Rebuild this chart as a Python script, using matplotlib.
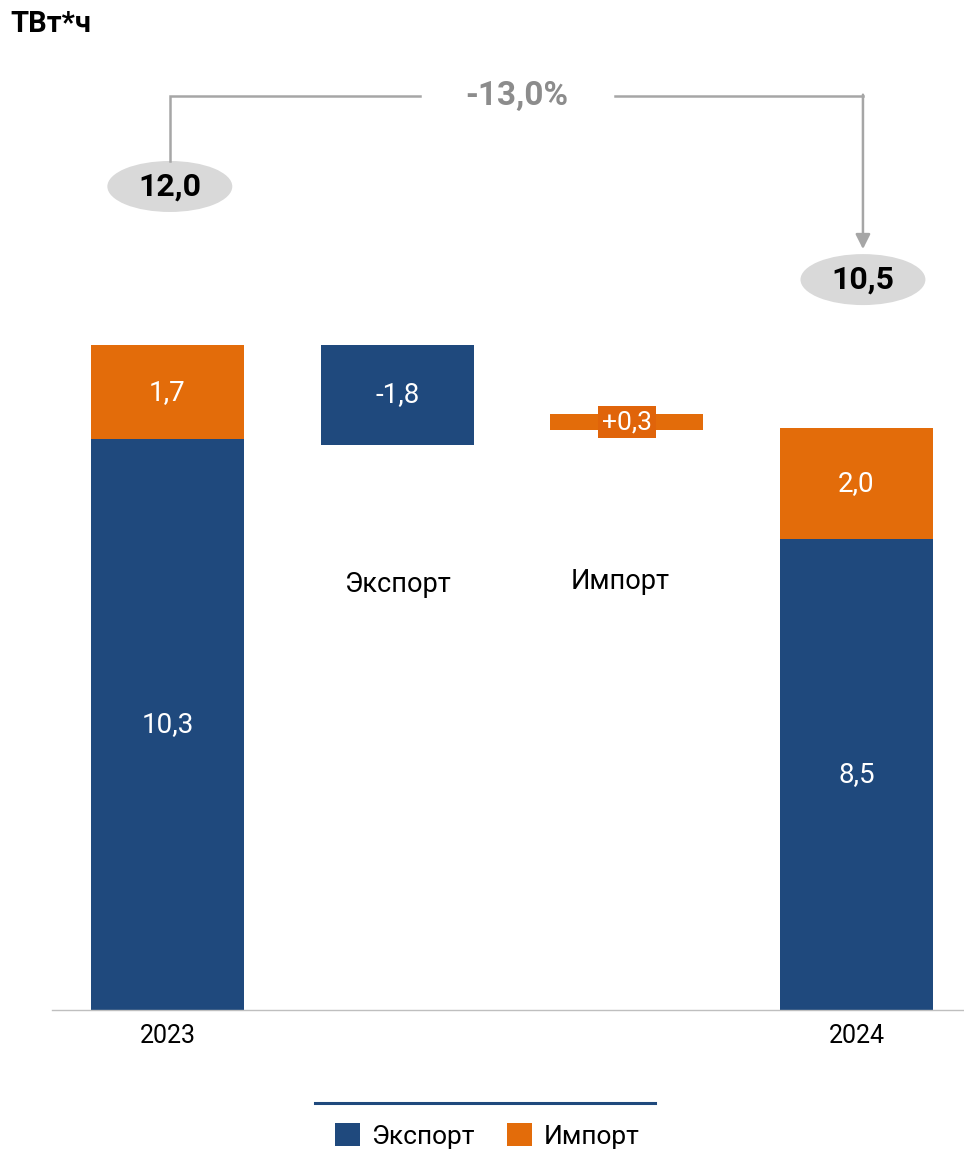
import matplotlib
matplotlib.use('Agg')
import matplotlib.pyplot as plt
from matplotlib.patches import Ellipse, Patch
from matplotlib.lines import Line2D

plt.rcParams['font.family'] = ['Roboto', 'DejaVu Sans']

# data
years = ['2023', '2024']
export_vals = [10.3, 8.5]
import_vals = [1.7, 2.0]
totals = [12.0, 10.5]
step_names = ['Экспорт', 'Импорт']
step_vals = [-1.8, 0.3]
pct_change = '-13,0%'

BLUE = '#1f497d'
ORANGE = '#e36c0a'
GRAY = '#a6a6a6'


def fmt(v, sign=False):
    s = ('%+.1f' if sign else '%.1f') % v
    return s.replace('.', ',')


fig = plt.figure(figsize=(9.64, 11.49), dpi=100)
ax = fig.add_axes([52 / 964, 139 / 1149, 1 - 52 / 964, 1010 / 1149])
ax.set_xlim(-0.503, 3.468)
ax.set_ylim(0, 18.225)
for s in ['top', 'right', 'left']:
    ax.spines[s].set_visible(False)
ax.spines['bottom'].set_color('#bfbfbf')
ax.spines['bottom'].set_linewidth(1)
ax.set_yticks([])

w = 0.666
xs_year = [0, 3]

# stacked year bars
ax.bar(xs_year, export_vals, width=w, color=BLUE)
ax.bar(xs_year, import_vals, width=w, bottom=export_vals, color=ORANGE)
for x, e, i in zip(xs_year, export_vals, import_vals):
    ax.text(x, e / 2, fmt(e), color='white', fontsize=20, ha='center', va='center')
    ax.text(x, e + i / 2, fmt(i), color='white', fontsize=20, ha='center', va='center')

# waterfall steps
exp_bottom = totals[0] + step_vals[0]
ax.bar(1, -step_vals[0], width=w, bottom=exp_bottom, color=BLUE)
ax.text(1, exp_bottom - step_vals[0] / 2, fmt(step_vals[0]), color='white',
        fontsize=20, ha='center', va='center')
imp_bottom = exp_bottom + step_vals[1]
ax.bar(2, step_vals[1], width=w, bottom=imp_bottom - 0.04, color=ORANGE)
ax.text(2, imp_bottom + step_vals[1] / 2 - 0.04, fmt(step_vals[1], sign=True), color='white',
        fontsize=19, ha='center', va='center',
        bbox=dict(boxstyle='square,pad=0.15', facecolor='#e0640a', edgecolor='none'))

ax.text(1, 7.67, step_names[0], fontsize=19.5, ha='center', va='center')
ax.text(1.97, 7.73, step_names[1], fontsize=19.5, ha='center', va='center')

ax.set_xticks(xs_year)
ax.set_xticklabels(years, fontsize=18)
ax.tick_params(axis='x', length=0, pad=10)

# total bubbles and change bracket
bubble_x = [0.01, 3.028]
bubble_y = [14.86, 13.18]
for bx, by, t in zip(bubble_x, bubble_y, totals):
    ax.add_patch(Ellipse((bx, by), 0.544, 0.92, facecolor='#d9d9d9', edgecolor='none'))
    ax.text(bx, by, fmt(t), fontsize=23, fontweight='bold', ha='center', va='center')

br_y = 16.5
ax.plot([bubble_x[0], bubble_x[0], 1.10], [15.32, br_y, br_y], color=GRAY, lw=1.8,
        solid_joinstyle='miter')
ax.plot([1.95, bubble_x[1]], [br_y, br_y], color=GRAY, lw=1.8)
ax.annotate('', xy=(bubble_x[1], 13.73), xytext=(bubble_x[1], br_y + 0.016),
            arrowprops=dict(arrowstyle='-|>', color=GRAY, lw=1.8, mutation_scale=22,
                            shrinkA=0, shrinkB=0))
ax.text(1.52, br_y, pct_change, fontsize=24, fontweight='bold', color='#8c8c8c',
        ha='center', va='center')

fig.text(10 / 964, 1 - 24 / 1149, 'ТВт*ч', fontsize=21, fontweight='bold', va='center')

# legend
fig.add_artist(Line2D([315 / 964, 655 / 964], [1 - 1103 / 1149] * 2, color=BLUE, lw=2.2))
handles = [Patch(facecolor=BLUE), Patch(facecolor=ORANGE)]
fig.legend(handles, step_names, loc='center', bbox_to_anchor=(487 / 964, 1 - 1136 / 1149),
           ncol=2, frameon=False, fontsize=19, handlelength=0.95, handleheight=0.95,
           handletextpad=0.45, columnspacing=1.2)

fig.savefig('out.png', dpi=100)
